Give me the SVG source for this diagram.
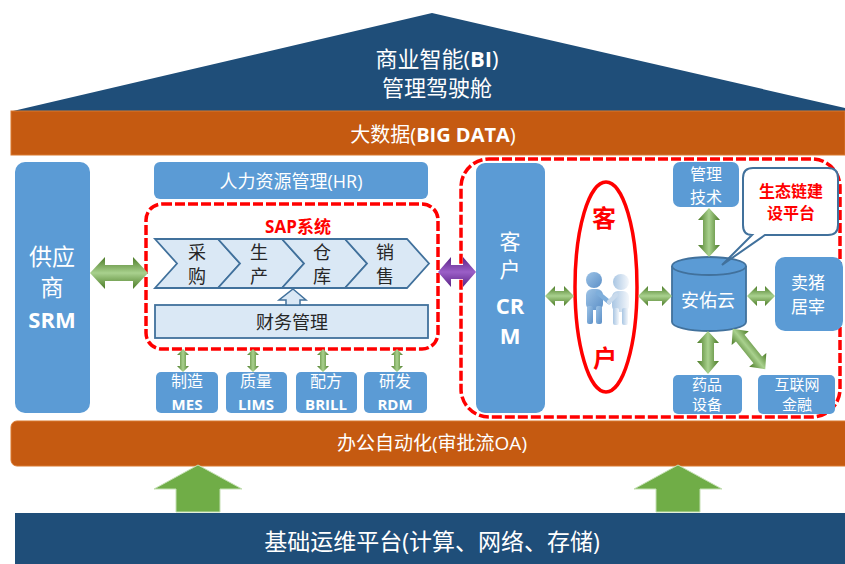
<svg xmlns="http://www.w3.org/2000/svg" width="845" height="564" viewBox="0 0 845 564">
  <defs>
    <style>
      text { font-family: "Open Sans", "Noto Sans CJK SC", sans-serif; text-anchor: middle; dominant-baseline: central; }
      .wt { fill: #ffffff; }
      .dk { fill: #262626; }
      .red { fill: #ff0000; font-weight: bold; }
      .box { fill: #5b9bd5; }
      .lite { fill: #dae8f5; stroke: #41719c; stroke-width: 1.8; }
      .band { fill: #c55a11; stroke: #d9782f; stroke-width: 1; }
      .navy { fill: #1f4e79; }
      .dash { fill: none; stroke: #ff0000; stroke-width: 3.5; stroke-dasharray: 10 3; }
      .gh { fill: url(#gH); }
      .gv { fill: url(#gV); }
      .up { fill: #70ad47; stroke: #c5e0b4; stroke-width: 1; }
    </style>
    <linearGradient id="gH" x1="0" y1="0" x2="0" y2="1">
      <stop offset="0" stop-color="#4a7a25"/>
      <stop offset="0.5" stop-color="#a9d18e"/>
      <stop offset="1" stop-color="#4a7a25"/>
    </linearGradient>
    <linearGradient id="gV" x1="0" y1="0" x2="1" y2="0">
      <stop offset="0" stop-color="#4a7a25"/>
      <stop offset="0.5" stop-color="#a9d18e"/>
      <stop offset="1" stop-color="#4a7a25"/>
    </linearGradient>
    <linearGradient id="gP" x1="0" y1="0" x2="0" y2="1">
      <stop offset="0" stop-color="#5a2386"/>
      <stop offset="0.5" stop-color="#9b5fc7"/>
      <stop offset="1" stop-color="#5a2386"/>
    </linearGradient>
    <linearGradient id="pBlue" x1="0" y1="0" x2="1" y2="1">
      <stop offset="0" stop-color="#9dc3e6"/>
      <stop offset="1" stop-color="#5b8fc7"/>
    </linearGradient>
    <linearGradient id="pWhite" x1="0" y1="0" x2="1" y2="0">
      <stop offset="0" stop-color="#a9c6e3"/>
      <stop offset="1" stop-color="#f4f7fb"/>
    </linearGradient>
  </defs>

  <!-- roof: business intelligence -->
  <g id="bi">
    <polygon class="navy" points="13,111 432,13 845,108 845,111"/>
    <text class="wt" x="437" y="58" font-size="22">商业智能(<tspan font-weight="bold">BI</tspan>)</text>
    <text class="wt" x="437" y="87" font-size="22">管理驾驶舱</text>
  </g>

  <!-- big data band -->
  <g id="bigdata">
    <rect class="band" x="11" y="111" width="834" height="44"/>
    <text class="wt" x="433" y="134" font-size="20">大数据(<tspan font-weight="bold">BIG DATA</tspan>)</text>
  </g>

  <!-- supplier -->
  <g id="srm">
    <rect class="box" x="15" y="162" width="75" height="251" rx="10"/>
    <text class="wt" x="52" y="256" font-size="23">供应</text>
    <text class="wt" x="52" y="287" font-size="23">商</text>
    <text class="wt" x="52" y="319" font-size="22" font-weight="bold">SRM</text>
  </g>

  <!-- HR -->
  <g id="hr">
    <rect class="box" x="154" y="162" width="274" height="37" rx="6"/>
    <text class="wt" x="291" y="181" font-size="18">人力资源管理(HR)</text>
  </g>

  <!-- SAP system -->
  <g id="sap">
    <rect class="dash" x="146" y="204" width="292" height="145" rx="16"/>
    <text class="red" x="298" y="226" font-size="17">SAP系统</text>
  </g>

  <g id="purchase">
    <polygon class="lite" points="155,239 218,239 240,263.5 218,288 155,288 177,263.5"/>
    <text class="dk" x="197" y="252" font-size="18">采</text>
    <text class="dk" x="197" y="276" font-size="18">购</text>
  </g>
  <g id="produce">
    <polygon class="lite" points="218,239 282,239 304,263.5 282,288 218,288 240,263.5"/>
    <text class="dk" x="259" y="252" font-size="18">生</text>
    <text class="dk" x="259" y="276" font-size="18">产</text>
  </g>
  <g id="store">
    <polygon class="lite" points="282,239 345,239 367,263.5 345,288 282,288 304,263.5"/>
    <text class="dk" x="322" y="252" font-size="18">仓</text>
    <text class="dk" x="322" y="276" font-size="18">库</text>
  </g>
  <g id="sales">
    <polygon class="lite" points="345,239 407,239 429,263.5 407,288 345,288 367,263.5"/>
    <text class="dk" x="385" y="252" font-size="18">销</text>
    <text class="dk" x="385" y="276" font-size="18">售</text>
  </g>

  <g id="finance">
    <rect class="lite" x="155" y="305" width="273" height="33"/>
    <text class="dk" x="292" y="322" font-size="18">财务管理</text>
  </g>

  <!-- satellite systems -->
  <g id="mes">
    <rect class="box" x="156" y="372" width="62" height="41" rx="5"/>
    <text class="wt" x="187" y="381" font-size="16">制造</text>
    <text class="wt" x="187" y="404" font-size="15" font-weight="bold">MES</text>
  </g>
  <g id="lims">
    <rect class="box" x="226" y="372" width="61" height="41" rx="5"/>
    <text class="wt" x="256" y="381" font-size="16">质量</text>
    <text class="wt" x="256" y="404" font-size="15" font-weight="bold">LIMS</text>
  </g>
  <g id="brill">
    <rect class="box" x="296" y="372" width="61" height="41" rx="5"/>
    <text class="wt" x="326" y="381" font-size="16">配方</text>
    <text class="wt" x="326" y="404" font-size="15" font-weight="bold">BRILL</text>
  </g>
  <g id="rdm">
    <rect class="box" x="364" y="372" width="63" height="41" rx="5"/>
    <text class="wt" x="395" y="381" font-size="16">研发</text>
    <text class="wt" x="395" y="404" font-size="15" font-weight="bold">RDM</text>
  </g>

  <!-- customer domain -->
  <g id="ecosystem">
    <rect class="dash" x="461" y="159" width="379" height="258" rx="28"/>
  </g>

  <g id="crm">
    <rect class="box" x="476" y="163" width="69" height="250" rx="9"/>
    <text class="wt" x="510" y="241" font-size="21">客</text>
    <text class="wt" x="510" y="269" font-size="21">户</text>
    <text class="wt" x="510" y="305" font-size="22" font-weight="bold">CR</text>
    <text class="wt" x="510" y="335" font-size="22" font-weight="bold">M</text>
  </g>

  <g id="customer">
    <ellipse cx="606" cy="287" rx="31" ry="105" fill="none" stroke="#ff0000" stroke-width="3.5"/>
    <text class="red" x="604" y="217" font-size="24">客</text>
    <text class="red" x="605" y="357" font-size="24">户</text>
    <!-- two figures shaking hands -->
    <g>
      <rect x="586" y="289" width="17" height="21" rx="6" fill="url(#pBlue)"/>
      <rect x="587" y="306" width="6" height="18" rx="2" fill="url(#pBlue)"/>
      <rect x="596" y="306" width="6" height="18" rx="2" fill="url(#pBlue)"/>
      <circle cx="594" cy="280" r="8" fill="url(#pBlue)"/>
      <path d="M598,293 L609,302" stroke="#7eaedb" stroke-width="4.5" stroke-linecap="round"/>
      <rect x="612" y="291" width="17" height="21" rx="6" fill="url(#pWhite)"/>
      <rect x="613" y="308" width="6" height="17" rx="2" fill="url(#pWhite)"/>
      <rect x="622" y="308" width="6" height="17" rx="2" fill="url(#pWhite)"/>
      <circle cx="621" cy="282" r="8" fill="url(#pWhite)"/>
      <path d="M616,295 L609,302" stroke="#c9daec" stroke-width="4.5" stroke-linecap="round"/>
    </g>
  </g>

  <g id="tech">
    <rect class="box" x="673" y="162" width="66" height="45" rx="7"/>
    <text class="wt" x="706" y="174" font-size="16">管理</text>
    <text class="wt" x="706" y="197" font-size="16">技术</text>
  </g>

  <g id="cloud">
    <path d="M672,266 V322 A37,9 0 0 0 746,322 V266" fill="#5b9bd5" stroke="#41719c" stroke-width="1.8"/>
    <ellipse cx="709" cy="266" rx="37" ry="9" fill="#5b9bd5" stroke="#41719c" stroke-width="1.8"/>
    <text class="wt" x="708" y="300" font-size="18">安佑云</text>
  </g>

  <g id="callout">
    <path d="M753,168 H828 Q838,168 838,178 V225 Q838,235 828,235 H765 L722,265 L752,235 Q743,235 743,225 V178 Q743,168 753,168 Z" fill="#ffffff" stroke="#41719c" stroke-width="2"/>
    <text class="red" x="791" y="191" font-size="16">生态链建</text>
    <text class="red" x="791" y="213" font-size="16">设平台</text>
  </g>

  <g id="slaughter">
    <rect class="box" x="775" y="257" width="68" height="74" rx="10"/>
    <text class="wt" x="808" y="282" font-size="17">卖猪</text>
    <text class="wt" x="808" y="306" font-size="17">居宰</text>
  </g>

  <g id="drugs">
    <rect class="box" x="673" y="375" width="69" height="39" rx="5"/>
    <text class="wt" x="707" y="384" font-size="15">药品</text>
    <text class="wt" x="707" y="404" font-size="15">设备</text>
  </g>

  <g id="finance-net">
    <rect class="box" x="758" y="375" width="77" height="39" rx="5"/>
    <text class="wt" x="797" y="384" font-size="15">互联网</text>
    <text class="wt" x="797" y="404" font-size="15">金融</text>
  </g>

  <!-- office automation band -->
  <g id="oa">
    <rect class="band" x="11" y="421" width="840" height="45" rx="6"/>
    <text class="wt" x="432" y="443" font-size="19">办公自动化(审批流OA)</text>
  </g>

  <!-- infrastructure -->
  <g id="infra">
    <rect class="navy" x="15" y="513" width="830" height="51"/>
    <text class="wt" x="432" y="541" font-size="23">基础运维平台(计算、网络、存储)</text>
  </g>

  <!-- connectors -->
  <g id="connectors">
    <!-- SRM <-> SAP -->
    <polygon class="gh" points="90,273 105,257 105,265 133,265 133,257 148,273 133,289 133,281 105,281 105,289"/>
    <!-- SAP <-> CRM -->
    <polygon fill="url(#gP)" points="438,272 451,257 451,265 463,265 463,257 476,272 463,287 463,279 451,279 451,287"/>
    <!-- SAP <-> satellite systems -->
    <polygon class="gv" points="183,349 189,355 186,355 186,366 189,366 183,372 177,366 180,366 180,355 177,355"/>
    <polygon class="gv" points="253,349 259,355 256,355 256,366 259,366 253,372 247,366 250,366 250,355 247,355"/>
    <polygon class="gv" points="323,349 329,355 326,355 326,366 329,366 323,372 317,366 320,366 320,355 317,355"/>
    <polygon class="gv" points="397,349 403,355 400,355 400,366 403,366 397,372 391,366 394,366 394,355 391,355"/>
    <!-- finance -> process chain -->
    <polygon fill="#dae8f5" stroke="#41719c" stroke-width="1.5" points="293,289 306,300 300,300 300,305 286,305 286,300 279,300"/>
    <!-- CRM <-> customer -->
    <polygon class="gh" points="545,296 555,286 555,291 564,291 564,286 574,296 564,306 564,301 555,301 555,306"/>
    <!-- customer <-> cloud -->
    <polygon class="gh" points="638,296 648,286 648,291 662,291 662,286 672,296 662,306 662,301 648,301 648,306"/>
    <!-- cloud <-> slaughter -->
    <polygon class="gh" points="747,296 757,286 757,291 765,291 765,286 775,296 765,306 765,301 757,301 757,306"/>
    <!-- tech <-> cloud -->
    <polygon class="gv" points="709,208 720,220 715,220 715,245 720,245 709,257 698,245 703,245 703,220 698,220"/>
    <!-- cloud <-> drugs -->
    <polygon class="gv" points="708,331 719,343 714,343 714,361 719,361 708,374 697,361 702,361 702,343 697,343"/>
    <!-- cloud <-> internet finance -->
    <g transform="translate(749,349) rotate(51.3)">
      <polygon class="gh" points="-26,0 -14,-11 -14,-5.5 14,-5.5 14,-11 26,0 14,11 14,5.5 -14,5.5 -14,11"/>
    </g>
    <!-- infrastructure supports OA -->
    <polygon class="up" points="198,465 242,489 220,489 220,512 176,512 176,489 154,489"/>
    <polygon class="up" points="678,465 722,489 700,489 700,512 656,512 656,489 634,489"/>
  </g>
</svg>
